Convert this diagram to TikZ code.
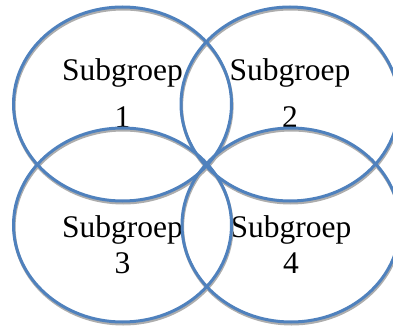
\documentclass[tikz,border=0pt]{standalone}
\usepackage{fontspec}
\setmainfont{Liberation Serif}
\usetikzlibrary{shapes.geometric}
\definecolor{ringblue}{HTML}{4F81BD}
\definecolor{shadowgray}{gray}{0.68}

\begin{document}
\begin{tikzpicture}[x=1pt, y=1pt,
  grp/.style={ellipse, minimum width=218pt, minimum height=194pt, inner sep=0pt},
  ring/.style={draw=ringblue, line width=3pt},
  ringshadow/.style={draw=shadowgray, line width=3pt},
  toplbl/.style={align=center, anchor=base, font=\fontsize{31.5pt}{47pt}\selectfont},
  botlbl/.style={align=center, anchor=base, font=\fontsize{31.5pt}{36pt}\selectfont}
]
  \useasboundingbox (0,0) rectangle (393,327);

  % Upper groups
  \node[grp] (g1) at (122.5,223) {};
  \node[grp] (g2) at (290,223) {};
  \node[toplbl] (t1) at ([yshift=-24pt]g1.center) {Subgroep\\1};
  \node[toplbl] (t2) at ([yshift=-24pt]g2.center) {Subgroep\\2};

  % Lower groups (white, cover the upper labels)
  \node[grp, fill=white] (g3) at (122.5,102) {};
  \node[grp, fill=white] (g4) at (291,102) {};
  \node[botlbl] (t3) at ([yshift=-48pt]g3.center) {Subgroep\\3};
  \node[botlbl] (t4) at ([yshift=-48pt]g4.center) {Subgroep\\4};

  % Outlines
  \foreach \i in {1,...,4}
    \draw[ringshadow] ([shift={(0.6,-2)}]g\i.center) ellipse [x radius=109pt, y radius=97pt];
  \foreach \i in {1,...,4}
    \draw[ring] (g\i.center) ellipse [x radius=109pt, y radius=97pt];
\end{tikzpicture}
\end{document}
